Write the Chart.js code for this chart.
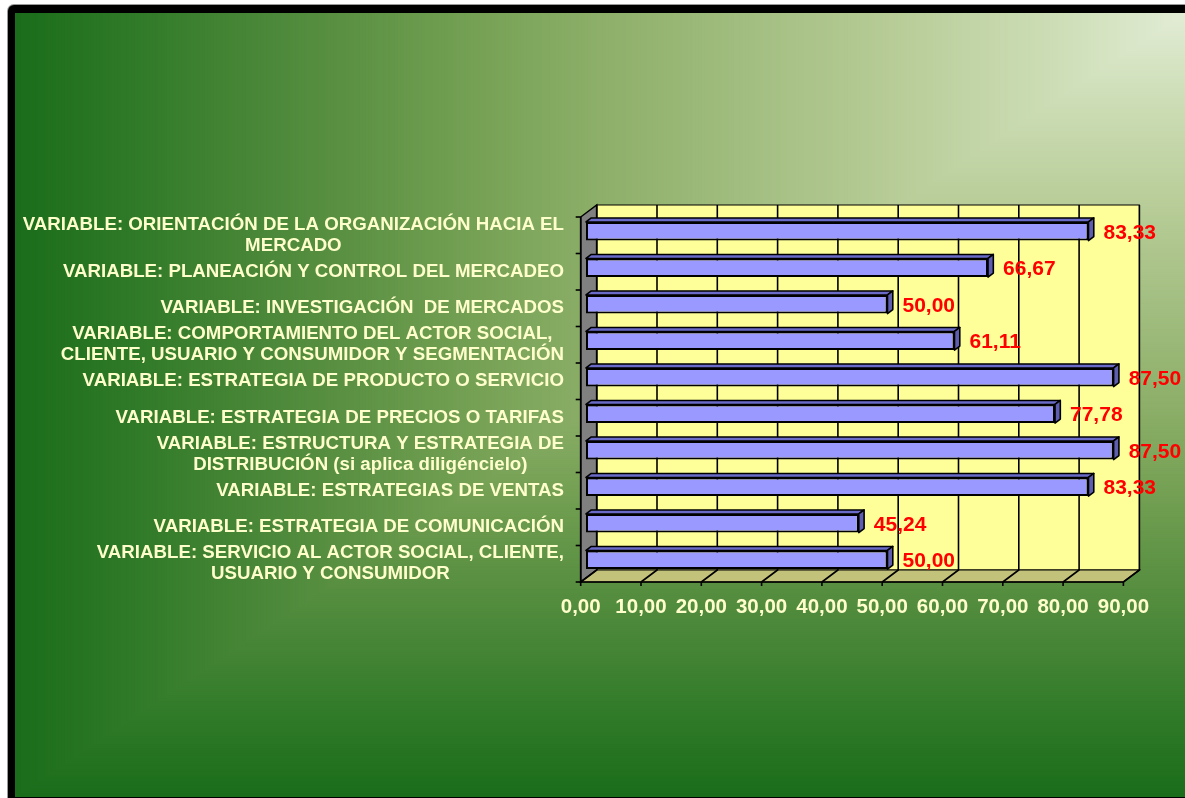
<!DOCTYPE html>
<html>
<head>
<meta charset="utf-8">
<script src="https://cdn.jsdelivr.net/npm/chart.js@4/dist/chart.umd.min.js"></script>
<style>
  html, body { margin: 0; padding: 0; background: #ffffff; overflow: hidden; }
  #wrap { position: relative; width: 1185px; height: 798px; }
</style>
</head>
<body>
<div id="wrap"><canvas id="chart"></canvas></div>
<script>
// Categories (one array of text lines per bar, top to bottom)
const categories = [
  ['VARIABLE: ORIENTACIÓN DE LA ORGANIZACIÓN HACIA EL', 'MERCADO'],
  ['VARIABLE: PLANEACIÓN Y CONTROL DEL MERCADEO'],
  ['VARIABLE: INVESTIGACIÓN  DE MERCADOS'],
  ['VARIABLE: COMPORTAMIENTO DEL ACTOR SOCIAL,', 'CLIENTE, USUARIO Y CONSUMIDOR Y SEGMENTACIÓN'],
  ['VARIABLE: ESTRATEGIA DE PRODUCTO O SERVICIO'],
  ['VARIABLE: ESTRATEGIA DE PRECIOS O TARIFAS'],
  ['VARIABLE: ESTRUCTURA Y ESTRATEGIA DE', 'DISTRIBUCIÓN (si aplica diligéncielo)'],
  ['VARIABLE: ESTRATEGIAS DE VENTAS'],
  ['VARIABLE: ESTRATEGIA DE COMUNICACIÓN'],
  ['VARIABLE: SERVICIO AL ACTOR SOCIAL, CLIENTE,', 'USUARIO Y CONSUMIDOR']
];
const scores = [83.33, 66.67, 50.00, 61.11, 87.50, 77.78, 87.50, 83.33, 45.24, 50.00];
const xTickValues = [0, 10, 20, 30, 40, 50, 60, 70, 80, 90];
const xTickLabels = ['0,00', '10,00', '20,00', '30,00', '40,00', '50,00', '60,00', '70,00', '80,00', '90,00'];

// 3D projection settings
const DEPTH_X = 16, DEPTH_Y = -12;     // wall depth
const BAR_OFF_X = 5.3, BAR_OFF_Y = -4; // bar front face set back from the front plane
const BAR_DX = 5.3, BAR_DY = -4;       // bar thickness in depth
const FONT = '"Liberation Sans", Arial, sans-serif';
const LABEL_COLOR = '#ffffcc';

const W = 1185, H = 798;

// Background colour ramp, from the top-right corner outwards
const bgStops = [
  [0.00, [226, 236, 213]],
  [0.10, [207, 223, 185]],
  [0.25, [183, 204, 151]],
  [0.40, [158, 187, 124]],
  [0.50, [141, 175, 105]],
  [0.60, [119, 162, 86]],
  [0.70, [95, 147, 69]],
  [0.80, [72, 134, 55]],
  [0.90, [47, 122, 40]],
  [1.00, [27, 109, 27]]
];
function rampColor(t) {
  for (let i = 1; i < bgStops.length; i++) {
    if (t <= bgStops[i][0]) {
      const [t0, c0] = bgStops[i - 1], [t1, c1] = bgStops[i];
      const f = (t - t0) / (t1 - t0);
      const c = c0.map((v, k) => Math.round(v + (c1[k] - v) * f));
      return `rgb(${c[0]},${c[1]},${c[2]})`;
    }
  }
  const c = bgStops[bgStops.length - 1][1];
  return `rgb(${c[0]},${c[1]},${c[2]})`;
}

const backgroundPlugin = {
  id: 'frameBackground',
  beforeDraw(chart) {
    const ctx = chart.ctx;
    ctx.save();
    ctx.fillStyle = '#ffffff';
    ctx.fillRect(0, 0, W, H);
    // dark frame with rounded corner
    ctx.fillStyle = '#9a9a9a';
    ctx.beginPath();
    ctx.roundRect(7, 4, W + 20, H + 20, 7);
    ctx.fill();
    ctx.fillStyle = '#000000';
    ctx.beginPath();
    ctx.roundRect(8, 5, W + 20, H + 20, 6);
    ctx.fill();
    // corner gradient fill inside the frame
    const x0 = 16, y0 = 13, x1 = W, y1 = 796;
    const gw = x1 - x0, gh = y1 - y0;
    const N = 400;
    for (let i = N; i >= 0; i--) {
      const t = i / N;
      ctx.fillStyle = rampColor(t);
      ctx.fillRect(x1 - t * gw - 1, y0, t * gw + 1, t * gh + 1);
    }
    ctx.restore();
  }
};

const wallsPlugin = {
  id: 'walls3d',
  beforeDatasetsDraw(chart) {
    const ctx = chart.ctx;
    const xs = chart.scales.x, ys = chart.scales.y;
    const left = xs.getPixelForValue(0), right = xs.getPixelForValue(90);
    const top = chart.chartArea.top, bottom = chart.chartArea.bottom;
    ctx.save();
    ctx.lineJoin = 'miter';

    // back wall
    ctx.fillStyle = '#ffff99';
    ctx.fillRect(left + DEPTH_X, top + DEPTH_Y, right - left, bottom - top);
    ctx.strokeStyle = '#000';
    ctx.lineWidth = 1;
    ctx.strokeRect(left + DEPTH_X, top + DEPTH_Y, right - left, bottom - top);

    // side wall
    ctx.fillStyle = '#808080';
    ctx.beginPath();
    ctx.moveTo(left, top);
    ctx.lineTo(left + DEPTH_X, top + DEPTH_Y);
    ctx.lineTo(left + DEPTH_X, bottom + DEPTH_Y);
    ctx.lineTo(left, bottom);
    ctx.closePath();
    ctx.fill();
    ctx.lineWidth = 1.5;
    ctx.stroke();

    // floor
    ctx.fillStyle = '#c3c27a';
    ctx.beginPath();
    ctx.moveTo(left, bottom);
    ctx.lineTo(right, bottom);
    ctx.lineTo(right + DEPTH_X, bottom + DEPTH_Y);
    ctx.lineTo(left + DEPTH_X, bottom + DEPTH_Y);
    ctx.closePath();
    ctx.fill();
    ctx.lineWidth = 1.2;
    ctx.stroke();

    // gridlines: back wall verticals and floor diagonals
    ctx.strokeStyle = '#000';
    ctx.lineWidth = 1.6;
    xTickValues.forEach(v => {
      const px = xs.getPixelForValue(v);
      ctx.beginPath();
      ctx.moveTo(px + DEPTH_X, top + DEPTH_Y);
      ctx.lineTo(px + DEPTH_X, bottom + DEPTH_Y);
      ctx.lineTo(px, bottom);
      ctx.stroke();
    });

    // value axis (front floor edge) with tick marks and labels
    ctx.lineWidth = 1.6;
    ctx.beginPath();
    ctx.moveTo(left, bottom);
    ctx.lineTo(right, bottom);
    ctx.stroke();
    ctx.fillStyle = LABEL_COLOR;
    ctx.font = 'bold 20.5px ' + FONT;
    ctx.textAlign = 'center';
    ctx.textBaseline = 'middle';
    xTickValues.forEach((v, i) => {
      const px = xs.getPixelForValue(v);
      ctx.beginPath();
      ctx.moveTo(px, bottom);
      ctx.lineTo(px, bottom + 4);
      ctx.stroke();
      ctx.fillText(xTickLabels[i], px, bottom + 25);
    });

    // category axis with tick marks between categories
    ctx.beginPath();
    ctx.moveTo(left, top);
    ctx.lineTo(left, bottom);
    ctx.stroke();
    const step = (bottom - top) / categories.length;
    for (let i = 0; i <= categories.length; i++) {
      const py = top + i * step;
      ctx.beginPath();
      ctx.moveTo(left - 5, py);
      ctx.lineTo(left, py);
      ctx.stroke();
    }

    // category labels: block right-aligned, lines centred within the block
    ctx.font = 'bold 18.7px ' + FONT;
    ctx.fillStyle = LABEL_COLOR;
    ctx.textBaseline = 'middle';
    ctx.textAlign = 'center';
    const labelRight = 564;
    const lineH = 21;
    categories.forEach((lines, i) => {
      const cy = ys.getPixelForValue(i);
      const blockW = Math.max(...lines.map(l => ctx.measureText(l).width));
      const cx = labelRight - blockW / 2;
      lines.forEach((line, k) => {
        const ly = cy + (k - (lines.length - 1) / 2) * lineH;
        ctx.fillText(line, cx, ly);
      });
    });
    ctx.restore();
  }
};

const bar3dPlugin = {
  id: 'bar3d',
  beforeDatasetDraw(chart, args) {
    const ctx = chart.ctx;
    ctx.save();
    ctx.translate(BAR_OFF_X, BAR_OFF_Y);
    const meta = args.meta;
    ctx.lineWidth = 1.6;
    ctx.strokeStyle = '#000';
    ctx.lineJoin = 'round';
    meta.data.forEach(el => {
      const p = el.getProps(['x', 'y', 'base', 'height'], true);
      const t = p.y - p.height / 2, b = p.y + p.height / 2;
      // top face
      ctx.fillStyle = '#6a6ac8';
      ctx.beginPath();
      ctx.moveTo(p.base, t);
      ctx.lineTo(p.x, t);
      ctx.lineTo(p.x + BAR_DX, t + BAR_DY);
      ctx.lineTo(p.base + BAR_DX, t + BAR_DY);
      ctx.closePath();
      ctx.fill();
      ctx.stroke();
      // end face
      ctx.fillStyle = '#5e5eb0';
      ctx.beginPath();
      ctx.moveTo(p.x, t);
      ctx.lineTo(p.x + BAR_DX, t + BAR_DY);
      ctx.lineTo(p.x + BAR_DX, b + BAR_DY);
      ctx.lineTo(p.x, b);
      ctx.closePath();
      ctx.fill();
      ctx.stroke();
    });
  },
  afterDatasetDraw(chart, args) {
    chart.ctx.restore();
  },
  afterDatasetsDraw(chart) {
    const ctx = chart.ctx;
    const meta = chart.getDatasetMeta(0);
    const data = chart.data.datasets[0].data;
    ctx.save();
    ctx.font = 'bold 21px ' + FONT;
    ctx.fillStyle = '#ff0000';
    ctx.textAlign = 'left';
    ctx.textBaseline = 'middle';
    meta.data.forEach((el, i) => {
      const p = el.getProps(['x', 'y'], true);
      const txt = data[i].toFixed(2).replace('.', ',');
      ctx.fillText(txt, p.x + BAR_OFF_X + 15, p.y + BAR_OFF_Y + 1.5);
    });
    ctx.restore();
  }
};

new Chart(document.getElementById('chart'), {
  type: 'bar',
  data: {
    labels: categories,
    datasets: [{
      data: scores,
      backgroundColor: '#9999ff',
      borderColor: '#000000',
      borderWidth: 2,
      borderSkipped: false,
      barPercentage: 0.51,
      categoryPercentage: 1.0
    }]
  },
  options: {
    indexAxis: 'y',
    responsive: true,
    maintainAspectRatio: false,
    animation: false,
    events: [],
    layout: { padding: { left: 580.7, right: W - 1123.4, top: 217, bottom: H - 582 } },
    scales: {
      x: { type: 'linear', min: 0, max: 90, display: false },
      y: { type: 'category', display: false, offset: true }
    },
    plugins: { legend: { display: false }, tooltip: { enabled: false } }
  },
  plugins: [backgroundPlugin, wallsPlugin, bar3dPlugin]
});
</script>
</body>
</html>
